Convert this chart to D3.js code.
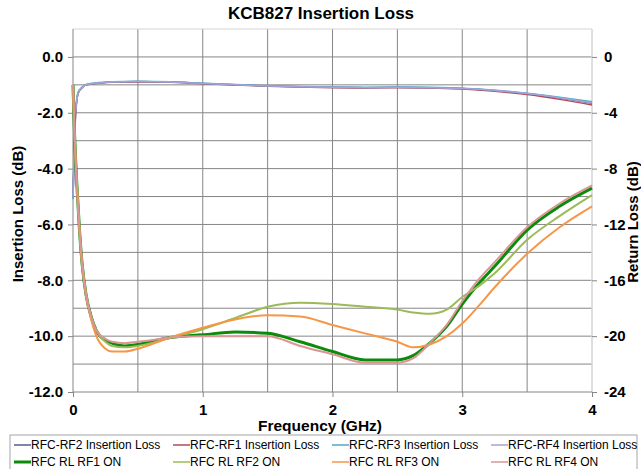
<!DOCTYPE html>
<html>
<head>
<meta charset="utf-8">
<title>KCB827 Insertion Loss</title>
<script src="https://cdn.jsdelivr.net/npm/d3@7/dist/d3.min.js"></script>
<style>
  body { margin: 0; background: #fff; }
  svg { display: block; font-family: Arial, "Liberation Sans", sans-serif; }
</style>
</head>
<body>
<svg id="chart" width="641" height="469"></svg>
<script>
// ---- data ----
// insertion loss, left axis (dB)
const fIL = [0, 0.01, 0.02, 0.04, 0.07, 0.1, 0.2, 0.3, 0.5, 0.75, 1.0, 1.25, 1.5, 1.75, 2.0, 2.25, 2.5, 2.75, 3.0, 3.25, 3.5, 3.75, 4.0];
const ilRF2 = [-5.0, -3.4, -2.0, -1.3, -1.1, -1.0, -0.93, -0.9, -0.88, -0.9, -0.95, -1.0, -1.04, -1.07, -1.09, -1.1, -1.09, -1.1, -1.13, -1.2, -1.32, -1.47, -1.66];
const ilRF1 = [-5.0, -3.5, -2.1, -1.3, -1.1, -1.0, -0.94, -0.91, -0.9, -0.91, -0.96, -1.01, -1.05, -1.08, -1.1, -1.11, -1.1, -1.11, -1.15, -1.23, -1.35, -1.52, -1.72];
const ilRF3 = [-5.1, -3.3, -1.9, -1.25, -1.08, -0.99, -0.92, -0.89, -0.87, -0.89, -0.94, -0.99, -1.03, -1.06, -1.08, -1.09, -1.08, -1.09, -1.12, -1.19, -1.3, -1.44, -1.6];
const ilRF4 = [-5.0, -3.4, -2.0, -1.3, -1.1, -1.0, -0.93, -0.9, -0.88, -0.9, -0.95, -1.0, -1.04, -1.07, -1.09, -1.1, -1.09, -1.1, -1.13, -1.2, -1.31, -1.46, -1.64];

// return loss, right axis (dB)
const fRL = [0, 0.01, 0.03, 0.05, 0.07, 0.1, 0.14, 0.18, 0.25, 0.3, 0.4, 0.5, 0.6, 0.75, 1.0, 1.25, 1.5, 1.75, 2.0, 2.25, 2.5, 2.62, 2.75, 2.88, 3.0, 3.13, 3.25, 3.5, 3.75, 4.0];
const rlRF1 = [-2, -5, -9.2, -12.4, -14.8, -17, -18.6, -19.6, -20.3, -20.5, -20.7, -20.6, -20.4, -20.1, -19.9, -19.7, -19.8, -20.4, -21.1, -21.7, -21.7, -21.4, -20.5, -19.3, -17.7, -16.2, -15, -12.4, -10.7, -9.4];
const rlRF2 = [-2, -5, -9.2, -12.4, -14.8, -17, -18.6, -19.6, -20.4, -20.7, -20.8, -20.7, -20.5, -20.1, -19.5, -18.7, -17.9, -17.6, -17.7, -17.9, -18.1, -18.3, -18.4, -18.1, -17.2, -16.4, -15.5, -13.1, -11.4, -9.9];
const rlRF3 = [-2, -5, -9.2, -12.4, -14.8, -17, -18.8, -20, -20.9, -21.1, -21.1, -20.9, -20.6, -20.1, -19.4, -18.8, -18.5, -18.6, -19.2, -19.8, -20.4, -20.8, -20.6, -20, -19.1, -17.8, -16.5, -14.1, -12.2, -10.7];
const rlRF4 = [-2, -5, -9.2, -12.4, -14.8, -17, -18.6, -19.6, -20.2, -20.4, -20.5, -20.4, -20.3, -20.1, -20, -20, -20, -20.7, -21.3, -21.9, -21.9, -21.6, -20.5, -19.2, -17.5, -15.9, -14.7, -12.2, -10.5, -9.2];

const xTicks = [0, 1, 2, 3, 4];
const leftTicks = [0, -2, -4, -6, -8, -10, -12];
const rightTicks = [0, -4, -8, -12, -16, -20, -24];

const series = [
  {name: 'RFC-RF2 Insertion Loss', f: fIL, v: ilRF2, axis: 'L', color: '#4f5e8e', w: 1.5},
  {name: 'RFC-RF1 Insertion Loss', f: fIL, v: ilRF1, axis: 'L', color: '#b04a5c', w: 1.5},
  {name: 'RFC-RF3 Insertion Loss', f: fIL, v: ilRF3, axis: 'L', color: '#4bacc6', w: 1.5},
  {name: 'RFC-RF4 Insertion Loss', f: fIL, v: ilRF4, axis: 'L', color: '#a9a2d6', w: 1.5},
  {name: 'RFC RL RF1 ON', f: fRL, v: rlRF1, axis: 'R', color: '#0b8a0b', w: 3},
  {name: 'RFC RL RF2 ON', f: fRL, v: rlRF2, axis: 'R', color: '#9bbb59', w: 2},
  {name: 'RFC RL RF3 ON', f: fRL, v: rlRF3, axis: 'R', color: '#f79646', w: 2},
  {name: 'RFC RL RF4 ON', f: fRL, v: rlRF4, axis: 'R', color: '#d99694', w: 2}
];

// ---- layout ----
const svg = d3.select('#chart');
const plot = {left: 73, right: 592, top: 29, bottom: 392};

const xScale = d3.scaleLinear().domain([0, 4]).range([plot.left, plot.right]);
const yLeft = d3.scaleLinear().domain([-12, 1]).range([plot.bottom, plot.top]);
const yRight = d3.scaleLinear().domain([-24, 2]).range([plot.bottom, plot.top]);

// title
svg.append('text')
  .attr('x', 321).attr('y', 19)
  .attr('text-anchor', 'middle')
  .attr('font-size', 17).attr('font-weight', 'bold')
  .text('KCB827 Insertion Loss');

// grid
const grid = svg.append('g');
grid.selectAll('.hg').data(d3.range(-11, 1)).join('line')
  .attr('x1', plot.left).attr('x2', plot.right)
  .attr('y1', d => yLeft(d)).attr('y2', d => yLeft(d))
  .attr('stroke', '#868686').attr('stroke-width', 1);
grid.selectAll('.vg').data(d3.range(0.5, 4, 0.5)).join('line')
  .attr('x1', d => xScale(d)).attr('x2', d => xScale(d))
  .attr('y1', plot.top).attr('y2', plot.bottom)
  .attr('stroke', '#868686').attr('stroke-width', 1);
// light border on top and right
grid.append('path')
  .attr('d', `M${plot.left},${plot.top}H${plot.right}V${plot.bottom}`)
  .attr('fill', 'none').attr('stroke', '#d4d4d4');

// axes
const gL = svg.append('g').attr('transform', `translate(${plot.left},0)`)
  .call(d3.axisLeft(yLeft).tickValues(leftTicks).tickFormat(d => d.toFixed(1)).tickSize(5).tickPadding(5));
const gR = svg.append('g').attr('transform', `translate(${plot.right},0)`)
  .call(d3.axisRight(yRight).tickValues(rightTicks).tickFormat(d => String(d)).tickSize(5).tickPadding(7));
const gB = svg.append('g').attr('transform', `translate(0,${plot.bottom})`)
  .call(d3.axisBottom(xScale).tickValues(xTicks).tickFormat(d => String(d)).tickSize(5).tickPadding(7));

[gL, gR, gB].forEach(g => {
  g.selectAll('text').attr('font-size', 15).attr('font-weight', 'bold')
    .attr('fill', '#000').style('font-family', 'Arial, "Liberation Sans", sans-serif');
  g.selectAll('line').attr('stroke', '#868686');
});
gL.select('.domain').attr('stroke', '#868686').attr('d', `M0,${plot.top}V${plot.bottom}`);
gB.select('.domain').attr('stroke', '#868686').attr('d', `M${plot.left},0H${plot.right}`);
gR.select('.domain').attr('stroke', '#d4d4d4').attr('d', `M0,${plot.top}V${plot.bottom}`);

// axis titles
svg.append('text')
  .attr('transform', 'translate(18,214) rotate(-90)')
  .attr('dy', '0.35em').attr('text-anchor', 'middle')
  .attr('font-size', 15).attr('font-weight', 'bold')
  .text('Insertion Loss (dB)');
svg.append('text')
  .attr('transform', 'translate(633,222) rotate(-90)')
  .attr('dy', '0.35em').attr('text-anchor', 'middle')
  .attr('font-size', 15).attr('font-weight', 'bold')
  .text('Return Loss (dB)');
svg.append('text')
  .attr('x', 320).attr('y', 431)
  .attr('text-anchor', 'middle')
  .attr('font-size', 15.5).attr('font-weight', 'bold')
  .text('Frequency (GHz)');

// lines
const lines = svg.append('g');
series.forEach(s => {
  const yS = s.axis === 'L' ? yLeft : yRight;
  const line = d3.line().x(d => xScale(d[0])).y(d => yS(d[1])).curve(d3.curveMonotoneX);
  lines.append('path')
    .datum(s.f.map((f, i) => [f, s.v[i]]))
    .attr('d', line)
    .attr('fill', 'none')
    .attr('stroke', s.color)
    .attr('stroke-width', s.w)
    .attr('stroke-linejoin', 'round');
});

// legend
const lg = svg.append('g');
lg.append('rect')
  .attr('x', 10).attr('y', 435).attr('width', 627).attr('height', 45)
  .attr('fill', '#fff').attr('stroke', '#a6a6a6');
const colX = [14, 173, 332, 491];
const rowY = [445, 462];
series.forEach((s, i) => {
  const cx = colX[i % 4], cy = rowY[Math.floor(i / 4)];
  lg.append('line')
    .attr('x1', cx).attr('x2', cx + 17).attr('y1', cy).attr('y2', cy)
    .attr('stroke', s.color).attr('stroke-width', s.w === 3 ? 3 : 1.5);
  lg.append('text')
    .attr('x', cx + 17).attr('y', cy).attr('dy', '0.35em')
    .attr('font-size', 12)
    .text(s.name);
});
</script>
</body>
</html>
